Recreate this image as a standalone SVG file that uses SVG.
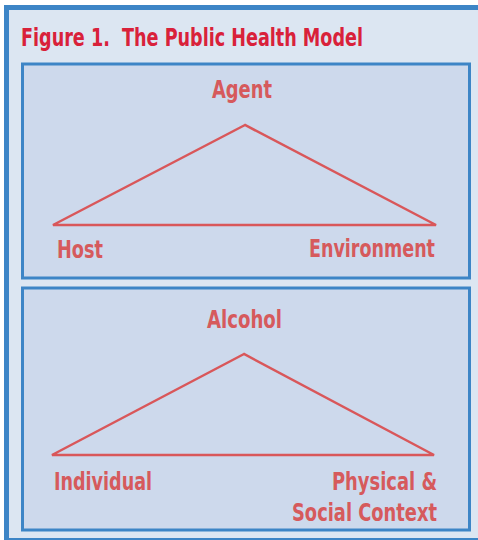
<svg xmlns="http://www.w3.org/2000/svg" width="478" height="540" viewBox="0 0 478 540">
<style>
.edge{fill:#3d85c6}
.box{fill:#cdd9ec;stroke:#3d85c6;stroke-width:3}
.tri{fill:none;stroke:#d9575a;stroke-width:2.5;stroke-linejoin:miter}
.lbl{font-family:"DejaVu Sans Condensed","Liberation Sans",sans-serif;font-weight:bold;font-size:24px;fill:#d65a5c}
.title{font-family:"DejaVu Sans Condensed","Liberation Sans",sans-serif;font-weight:bold;font-size:25px;fill:#d9213a}
</style>
<rect x="0" y="0" width="478" height="540" fill="#ffffff"/>
<rect x="4" y="5" width="474" height="535" fill="#dce6f2"/>
<rect class="edge" x="4" y="5" width="474" height="5"/>
<rect class="edge" x="4" y="5" width="5" height="535"/>
<rect class="edge" x="4" y="538" width="474" height="2"/>
<text class="title" x="21" y="46" textLength="342" lengthAdjust="spacingAndGlyphs" xml:space="preserve">Figure 1.  The Public Health Model</text>
<g id="panel1">
<rect class="box" x="22.5" y="64" width="447" height="214"/>
<g id="agent"><text class="lbl" x="212" y="98" textLength="60" lengthAdjust="spacingAndGlyphs">Agent</text></g>
<g id="host"><text class="lbl" x="57" y="258" textLength="46" lengthAdjust="spacingAndGlyphs">Host</text></g>
<g id="environment"><text class="lbl" x="309" y="257" textLength="126" lengthAdjust="spacingAndGlyphs">Environment</text></g>
</g>
<g id="panel2">
<rect class="box" x="22.5" y="288" width="447" height="242"/>
<g id="alcohol"><text class="lbl" x="207" y="328" textLength="75" lengthAdjust="spacingAndGlyphs">Alcohol</text></g>
<g id="individual"><text class="lbl" x="54" y="490" textLength="98" lengthAdjust="spacingAndGlyphs">Individual</text></g>
<g id="context"><text class="lbl" x="332" y="490" textLength="105" lengthAdjust="spacingAndGlyphs">Physical &amp;</text><text class="lbl" x="292" y="521" textLength="145" lengthAdjust="spacingAndGlyphs">Social Context</text></g>
</g>
<g id="connectors">
<polygon class="tri" points="245,125 53,225 436,225"/>
<polygon class="tri" points="244,354 52,455 434,455"/>
</g>
</svg>
